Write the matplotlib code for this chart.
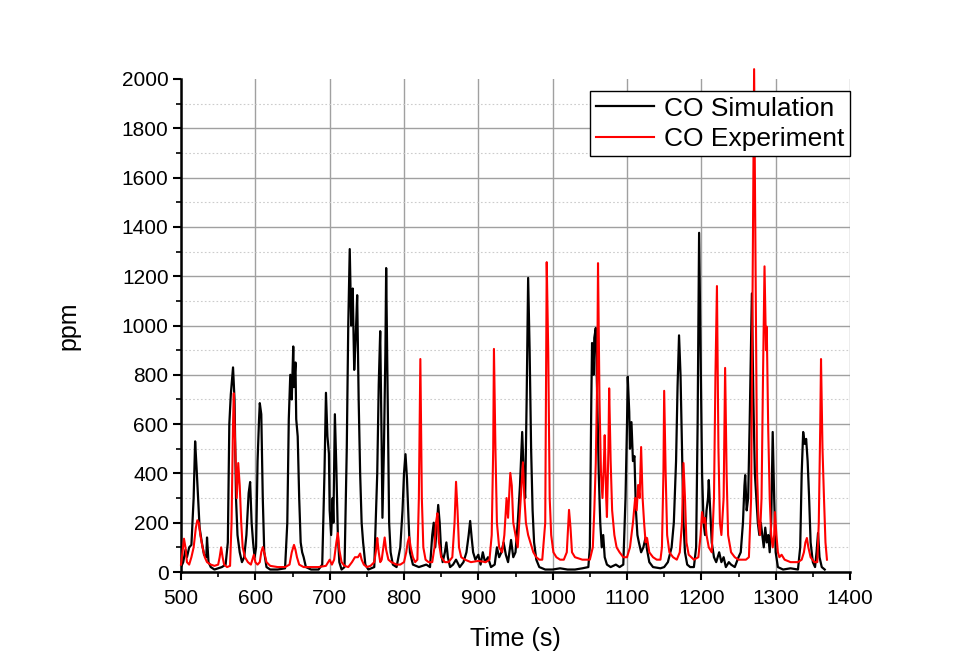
import matplotlib
matplotlib.use("Agg")
import matplotlib.pyplot as plt
from matplotlib.ticker import MultipleLocator

plt.rcParams['font.family'] = ['Liberation Sans', 'DejaVu Sans']

sim_time = [500, 503, 506, 508, 511, 514, 517, 519, 521, 523, 525, 528, 531, 534, 535, 537, 540, 545, 550, 555,
            560, 563, 565, 567, 570, 572, 574, 576, 579, 582, 585, 588, 591, 593, 595, 597, 599, 601, 603, 605,
            606, 608, 610, 612, 615, 620, 630, 640, 643, 645, 647, 649, 651, 652, 654, 655, 657, 659, 661, 663,
            665, 668, 675, 685, 690, 693, 695, 697, 699, 700, 702, 704, 705, 707, 709, 711, 713, 716, 720, 723,
            725, 727, 729, 731, 733, 735, 737, 739, 741, 743, 745, 748, 752, 760, 764, 766, 768, 770, 771, 773,
            775, 776, 778, 780, 782, 785, 790, 795, 798, 800, 802, 804, 806, 808, 812, 820, 830, 835, 838, 840,
            842, 844, 846, 848, 850, 852, 855, 857, 859, 862, 866, 870, 875, 880, 884, 887, 889, 891, 893, 896,
            900, 903, 906, 909, 913, 917, 922, 925, 928, 931, 934, 937, 940, 944, 947, 950, 953, 956, 958, 959,
            961, 963, 965, 967, 969, 971, 973, 975, 978, 982, 990, 1000, 1010, 1020, 1030, 1040, 1048, 1050, 1052, 1053,
            1055, 1056, 1058, 1060, 1062, 1064, 1066, 1068, 1070, 1073, 1078, 1085, 1090, 1095, 1098, 1100, 1101, 1103, 1104, 1106,
            1108, 1110, 1112, 1114, 1116, 1119, 1122, 1125, 1127, 1130, 1135, 1145, 1150, 1155, 1160, 1163, 1166, 1168, 1170, 1172,
            1174, 1176, 1178, 1181, 1185, 1190, 1193, 1195, 1197, 1199, 1201, 1203, 1205, 1207, 1209, 1210, 1212, 1214, 1217, 1220,
            1224, 1227, 1230, 1233, 1237, 1240, 1245, 1250, 1253, 1256, 1258, 1259, 1261, 1263, 1265, 1268, 1270, 1272, 1274, 1276,
            1278, 1280, 1282, 1284, 1286, 1288, 1290, 1292, 1294, 1296, 1298, 1300, 1303, 1310, 1320, 1330, 1333, 1335, 1337, 1339,
            1341, 1343, 1345, 1347, 1350, 1353, 1355, 1357, 1359, 1362, 1366]
sim_ppm = [20, 40, 90, 60, 100, 110, 300, 530, 420, 300, 180, 120, 70, 60, 140, 40, 20, 10, 15, 20,
           30, 120, 600, 720, 830, 700, 300, 150, 80, 40, 60, 150, 320, 365, 200, 120, 60, 100, 450, 620,
           685, 640, 300, 80, 20, 10, 10, 15, 200, 620, 800, 700, 915, 750, 850, 620, 550, 300, 120, 80,
           60, 20, 10, 10, 30, 400, 727, 550, 480, 250, 150, 300, 200, 640, 420, 150, 40, 10, 20, 500,
           1000, 1310, 1000, 1150, 820, 950, 1123, 700, 400, 200, 120, 30, 10, 20, 400, 760, 977, 500, 220, 500,
           900, 1233, 700, 200, 80, 30, 20, 100, 250, 400, 478, 380, 220, 80, 30, 20, 30, 20, 150, 200,
           100, 180, 272, 200, 80, 40, 80, 120, 60, 20, 30, 50, 20, 40, 80, 150, 207, 140, 80, 50,
           70, 30, 80, 40, 60, 20, 30, 100, 60, 80, 120, 70, 40, 130, 60, 80, 200, 350, 500, 568,
           400, 300, 700, 1193, 900, 500, 250, 120, 50, 20, 10, 10, 15, 10, 10, 15, 20, 100, 700, 929,
           800, 950, 990, 700, 400, 200, 100, 150, 60, 30, 20, 30, 20, 30, 300, 600, 792, 650, 500, 608,
           450, 470, 250, 150, 120, 80, 100, 140, 90, 40, 20, 15, 20, 40, 100, 200, 450, 750, 960, 800,
           500, 200, 80, 30, 20, 20, 100, 600, 1376, 900, 400, 200, 150, 250, 300, 373, 250, 120, 60, 40,
           80, 40, 60, 20, 40, 30, 20, 60, 80, 200, 350, 393, 250, 300, 600, 1130, 700, 400, 300, 200,
           150, 200, 150, 100, 180, 120, 150, 80, 200, 568, 300, 80, 20, 10, 15, 10, 100, 400, 568, 520,
           540, 450, 300, 120, 40, 20, 80, 158, 60, 20, 10]

exp_time = [500, 502, 504, 506, 508, 511, 514, 517, 520, 522, 524, 526, 529, 532, 535, 540, 545, 550, 552, 554,
            556, 558, 562, 566, 568, 570, 571, 573, 575, 577, 579, 581, 583, 586, 590, 594, 596, 598, 600, 603,
            606, 608, 610, 612, 615, 620, 630, 640, 646, 649, 652, 654, 656, 659, 665, 675, 685, 695, 700, 703,
            706, 709, 711, 713, 716, 720, 725, 730, 734, 738, 741, 743, 746, 750, 755, 760, 763, 764, 766, 768,
            770, 774, 776, 779, 783, 790, 795, 800, 803, 805, 807, 809, 812, 815, 818, 820, 822, 824, 826, 829,
            833, 838, 841, 843, 845, 847, 850, 855, 860, 865, 868, 870, 872, 874, 877, 882, 890, 900, 910, 915,
            918, 920, 921, 923, 925, 928, 932, 935, 938, 940, 943, 945, 947, 950, 953, 955, 957, 960, 962, 964,
            967, 970, 974, 978, 982, 986, 990, 991, 992, 994, 996, 998, 1001, 1005, 1010, 1015, 1019, 1021, 1022, 1024,
            1026, 1030, 1040, 1050, 1054, 1056, 1058, 1060, 1061, 1063, 1065, 1067, 1069, 1070, 1072, 1073, 1075, 1076, 1078, 1080,
            1083, 1086, 1090, 1095, 1100, 1104, 1108, 1111, 1113, 1115, 1117, 1119, 1121, 1123, 1125, 1127, 1130, 1135, 1140, 1145,
            1147, 1149, 1150, 1152, 1154, 1157, 1162, 1167, 1171, 1174, 1176, 1178, 1180, 1183, 1190, 1196, 1199, 1201, 1203, 1205,
            1207, 1210, 1214, 1217, 1219, 1221, 1223, 1225, 1227, 1230, 1232, 1234, 1236, 1240, 1245, 1250, 1255, 1260, 1264, 1267,
            1269, 1271, 1273, 1275, 1277, 1279, 1281, 1283, 1285, 1287, 1288, 1290, 1292, 1294, 1296, 1298, 1299, 1301, 1303, 1305,
            1308, 1312, 1320, 1330, 1335, 1338, 1340, 1342, 1344, 1347, 1352, 1356, 1358, 1360, 1361, 1363, 1365, 1367, 1369]
exp_ppm = [30, 80, 135, 100, 40, 30, 60, 100, 180, 210, 200, 150, 100, 60, 40, 30, 25, 30, 60, 100,
           60, 30, 20, 25, 200, 600, 725, 500, 300, 442, 350, 200, 100, 60, 40, 30, 50, 70, 40, 30,
           40, 80, 101, 80, 40, 25, 20, 20, 30, 80, 110, 90, 60, 30, 20, 20, 20, 25, 50, 30,
           50, 120, 158, 90, 40, 25, 20, 40, 60, 60, 75, 50, 30, 20, 25, 40, 100, 138, 80, 40,
           50, 140, 90, 50, 40, 30, 30, 40, 80, 120, 142, 100, 60, 40, 50, 300, 864, 300, 100, 50,
           40, 40, 100, 200, 238, 120, 60, 40, 40, 60, 200, 366, 250, 100, 60, 50, 40, 45, 40, 50,
           150, 500, 905, 500, 200, 100, 80, 150, 300, 220, 402, 350, 200, 150, 100, 200, 300, 445, 300, 200,
           150, 120, 80, 60, 50, 50, 200, 700, 1257, 900, 300, 150, 80, 60, 50, 50, 80, 200, 252, 180,
           80, 60, 50, 50, 100, 250, 442, 800, 1253, 700, 400, 300, 450, 555, 300, 223, 500, 745, 450, 250,
           150, 100, 80, 60, 60, 100, 200, 300, 250, 353, 300, 507, 300, 200, 120, 138, 80, 60, 50, 50,
           100, 400, 735, 400, 150, 80, 60, 50, 80, 200, 442, 300, 120, 70, 50, 60, 150, 243, 200, 220,
           150, 100, 80, 300, 800, 1160, 500, 200, 150, 300, 828, 400, 150, 80, 60, 50, 50, 50, 60, 300,
           1200, 2040, 1200, 400, 200, 150, 300, 800, 1240, 900, 995, 575, 300, 150, 100, 150, 243, 150, 80, 60,
           70, 50, 40, 40, 50, 80, 120, 138, 100, 60, 40, 40, 200, 600, 864, 500, 300, 120, 50]

series_labels = ['CO Simulation', 'CO Experiment']
series_colors = ['black', 'red']

fig = plt.figure(figsize=(9.72, 6.71), dpi=100)
ax = fig.add_axes([181/972, 1 - 572/671, (850 - 181)/972, (572 - 79)/671])

ax.plot(sim_time, sim_ppm, color=series_colors[0], lw=1.6, label=series_labels[0], zorder=3)
ax.plot(exp_time, exp_ppm, color=series_colors[1], lw=1.5, label=series_labels[1], zorder=4, clip_on=False)

ax.set_xlim(500, 1400)
ax.set_ylim(0, 2000)
ax.xaxis.set_major_locator(MultipleLocator(100))
ax.xaxis.set_minor_locator(MultipleLocator(50))
ax.yaxis.set_major_locator(MultipleLocator(200))
ax.yaxis.set_minor_locator(MultipleLocator(100))

ax.grid(True, which='major', color='#a0a0a0', lw=1.0, zorder=0)
ax.yaxis.grid(True, which='minor', color='#cccccc', lw=0.8, ls=(0, (1.5, 2)), zorder=0)
ax.set_axisbelow(True)

for s in ['top', 'right']:
    ax.spines[s].set_visible(False)
for s in ['left', 'bottom']:
    ax.spines[s].set_linewidth(1.8)

ax.tick_params(which='major', direction='out', length=6, width=1.5, labelsize=15)
ax.tick_params(axis='x', which='major', pad=6)
ax.tick_params(axis='y', which='major', pad=3)
ax.tick_params(which='minor', direction='out', length=3.5, width=1.2)

ax.set_xlabel('Time (s)', fontsize=18, labelpad=14)
ax.set_ylabel('ppm', fontsize=18, labelpad=30)

fig.canvas.draw()
for gl, loc in zip(ax.yaxis.get_gridlines(), ax.yaxis.get_majorticklocs()):
    if loc >= 2000:
        gl.set_visible(False)

leg = ax.legend(loc='upper right', bbox_to_anchor=(1.0, 0.975), fontsize=19,
                frameon=True, fancybox=False, edgecolor='black', framealpha=1,
                handlelength=2.2, borderpad=0.2, labelspacing=0.25, handletextpad=0.4,
                borderaxespad=0)
leg.get_frame().set_linewidth(1.0)
leg.set_zorder(10)

fig.savefig('out.png', dpi=100)
